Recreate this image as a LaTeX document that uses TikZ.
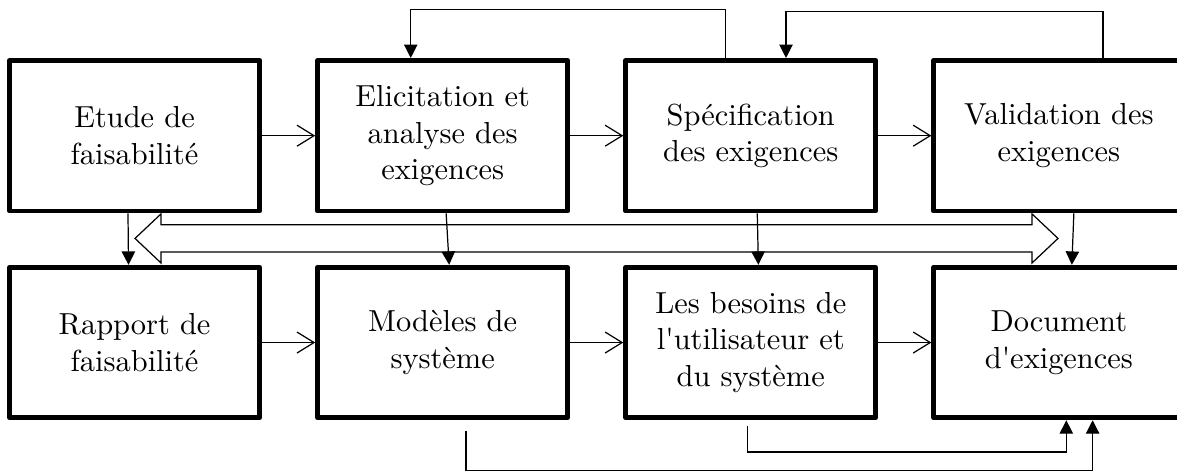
\documentclass[tikz,border=0pt]{standalone}
\usetikzlibrary{arrows.meta,calc}
\tikzset{
	etape/.style={draw, line width=1.6pt, line join=round, minimum width=2.89cm, minimum height=1.74cm, inner sep=0pt, align=center},
	fleche/.style={-{Straight Barb[length=5.6pt,width=6.9pt]}},
	retour/.style={-{Triangle[length=4.4pt,width=4.4pt]}}
}
\begin{document}
\begin{tikzpicture}
			\useasboundingbox (0,0) rectangle (13.6,5.454);
			\clip (0,0) rectangle (13.6,5.454);
			\node[etape] (etude) at (1.555,3.886) {Etude de\\faisabilité};
			\node[etape] (elicit) at (5.115,3.886) {Elicitation et\\analyse des\\exigences};
			\node[etape] (specif) at (8.675,3.886) {Spécification\\des exigences};
			\node[etape] (valid) at (12.235,3.886) {Validation des\\exigences};
			\node[etape] (rapport) at (1.555,1.496) {Rapport de\\faisabilité};
			\node[etape] (modeles) at (5.115,1.496) {Modèles de\\système};
			\node[etape] (besoins) at (8.675,1.496) {Les besoins de\\l\textquotesingle utilisateur et\\du système};
			\node[etape] (document) at (12.235,1.496) {Document\\d\textquotesingle exigences};
			\draw[fleche] (etude) -- (elicit);
			\draw[fleche] (elicit) -- (specif);
			\draw[fleche] (specif) -- (valid);
			\draw[fleche] (rapport) -- (modeles);
			\draw[fleche] (modeles) -- (besoins);
			\draw[fleche] (besoins) -- (document);
			\draw[retour] ($(etude.south)+(-0.076,0)$) -- ($(rapport.north)+(-0.07,0)$);
			\draw[retour] ($(elicit.south)+(0.04,0)$) -- ($(modeles.north)+(0.075,0)$);
			\draw[retour] ($(specif.south)+(0.075,0)$) -- ($(besoins.north)+(0.088,0)$);
			\draw[retour] ($(valid.south)+(0.173,0)$) -- ($(document.north)+(0.15,0)$);
			\draw[retour] ($(specif.north)+(-0.289,0)$) -- ++(0,0.563) -| ($(elicit.north)+(-0.369,0)$);
			\draw[retour] ($(valid.north)+(0.51,0)$) -- ++(0,0.537) -| ($(specif.north)+(0.407,0)$);
			\coordinate (gauche) at ($(etude.south)+(0.005,-0.289)$);
			\coordinate (droite) at ($(valid.south)+(-0.01,-0.289)$);
			\draw (gauche) -- ++(0.3,0.283) -- ++(0,-0.125) -| ($(droite)+(-0.3,0.283)$) -- (droite)
				-- ++(-0.3,-0.283) -- ++(0,0.125) -| ($(gauche)+(0.3,-0.283)$) -- cycle;
			\coordinate (b1) at ($(besoins.south)+(-0.035,-0.07)$);
			\coordinate (b2) at ($(modeles.south)+(0.27,-0.12)$);
			\draw[retour] (b1) |- ($(document.south)+(0.086,-0.367)$) -- ($(document.south)+(0.086,0)$);
			\draw[retour] (b2) |- ($(document.south)+(0.39,-0.578)$) -- ($(document.south)+(0.39,0)$);
\end{tikzpicture}
\end{document}
